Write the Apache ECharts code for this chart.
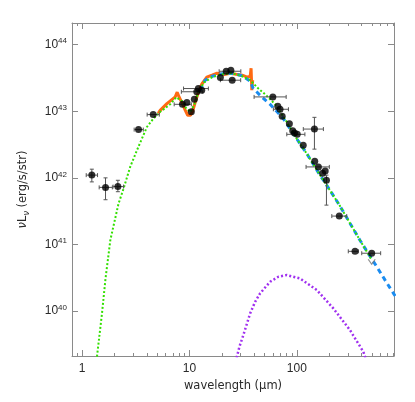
<!DOCTYPE html>
<html><head><meta charset="utf-8">
<script src="https://cdn.jsdelivr.net/npm/echarts@6/dist/echarts.min.js"></script>
<style>html,body{margin:0;padding:0;background:#fff}#c{width:415px;height:402px}</style>
</head><body><div id="c"></div>
<script>
// ---- observed photometry (wavelength in micron, nuL_nu in erg/s/str) ----
const ptWave   = [1.23, 1.65, 2.15, 3.35, 4.59, 8.6, 9.46, 10.4, 11.1, 11.7, 12.1, 13.0, 19.4, 22.0, 24.3, 25.0, 59.8, 66.5, 69.8, 73.1, 85.3, 91.6, 95.3, 101, 114.8, 146, 147, 159, 174, 184, 189, 249, 349, 499];
const ptLum    = [1.10e42, 7.2e41, 7.4e41, 5.3e42, 8.9e42, 1.27e43, 1.35e43, 9.8e42, 1.51e43, 1.96e43, 2.19e43, 2.07e43, 3.2e43, 3.98e43, 4.12e43, 2.92e43, 1.64e43, 1.19e43, 1.07e43, 8.4e42, 6.5e42, 5.1e42, 4.7e42, 4.5e42, 3.09e42, 5.4e42, 1.78e42, 1.46e42, 1.17e42, 1.27e42, 9.2e41, 2.67e41, 7.9e40, 7.4e40];
const ptWaveLo = [1.09, 1.44, 1.94, 3.05, 4.03, 7.2, null, null, null, 8.4, 8.8, null, null, 18.9, null, 19.4, 40, null, 60.5, null, null, null, null, 80.7, null, 115, null, 122, null, null, null, 212, 302, 403];
const ptWaveHi = [1.39, 1.91, 2.43, 3.71, 5.23, 10.4, null, null, null, 13.3, 15.0, null, null, 30.1, null, 30.0, 79.6, null, 83.6, null, null, null, null, 119, null, 177, null, 201, null, null, null, 292, 375, 605];
const ptLumLo  = [8.7e41, 4.7e41, 6.2e41, null, null, null, null, null, null, null, null, null, null, null, null, null, null, null, null, null, null, null, null, null, null, 2.7e42, null, null, null, null, 3.9e41, null, null, null];
const ptLumHi  = [1.35e42, 1.0e42, 9.2e41, null, null, null, null, null, null, null, null, null, null, null, null, null, null, null, null, null, null, null, null, null, null, 8.1e42, null, null, null, null, 1.1e42, null, null, null];
// upper limit marker
const ulWave = [499];
const ulLum  = [5.5e40];

// ---- model curves ----
const totWave = [1.32, 1.53, 1.65, 1.83, 2.18, 2.43, 2.80, 3.24, 4.01, 4.62, 5.33, 6.61, 7.52, 8.55, 9.31, 10.2, 11.1, 12.1, 13.7, 16.3, 20.2, 25.0, 31.0, 36.8, 43.6, 51.8, 62.8, 77.8, 96.4, 125, 158, 204, 253, 313, 388, 502];
const totLum  = [1.2e39, 9.3e39, 3.1e40, 1.17e41, 4.1e41, 6.9e41, 1.46e42, 2.6e42, 5.8e42, 7.8e42, 9.8e42, 1.27e43, 1.62e43, 1.41e43, 1.11e43, 9.7e42, 1.27e43, 1.93e43, 2.72e43, 3.24e43, 3.59e43, 3.72e43, 3.35e43, 2.92e43, 2.21e43, 1.74e43, 1.27e43, 7.6e42, 4.2e42, 2.26e42, 1.22e42, 6.5e41, 3.77e41, 2.09e41, 1.16e41, 5.8e40];

const fitWave = [12.6, 14.0, 16.3, 20.2, 25.0, 31.0, 36.8, 39.2, 47.5, 56.4, 74.5, 96.4, 125, 158, 204, 253, 313, 388, 481, 560, 665, 805, 916];
const fitLum  = [2.05e43, 2.92e43, 3.35e43, 3.65e43, 3.72e43, 3.41e43, 2.82e43, 2.21e43, 1.62e43, 1.27e43, 7.85e42, 4.2e42, 2.26e42, 1.22e42, 6.5e41, 3.77e41, 2.09e41, 1.16e41, 6.7e40, 4.57e40, 2.92e40, 1.8e40, 1.32e40];

const coldWave = [26.9, 29.2, 31.8, 36.8, 40.9, 45.5, 56.4, 67.4, 80.7, 107, 154, 219, 313, 417, 442];
const coldLum  = [1.73e39, 2.92e39, 4.4e39, 9.3e39, 1.38e40, 1.85e40, 2.76e40, 3.28e40, 3.48e40, 3.1e40, 2.07e40, 1.1e40, 5.2e39, 2.46e39, 1.85e39];

const specWave = [5.11, 5.33, 6.16, 6.90, 7.36, 7.68, 8.02, 8.55, 9.12, 9.62, 10.2, 10.7, 11.3, 12.1, 13.0, 14.5, 16.2, 18.1, 20.6, 23.9, 27.2, 31.0, 34.4, 36.8, 37.5, 38.1, 38.8];
const specLum  = [9.3e42, 1.03e43, 1.30e43, 1.51e43, 1.64e43, 1.93e43, 1.62e43, 1.32e43, 1.04e43, 8.7e42, 8.7e42, 1.0e43, 1.36e43, 1.93e43, 2.54e43, 3.24e43, 3.47e43, 3.72e43, 3.52e43, 3.72e43, 3.59e43, 3.47e43, 3.24e43, 3.35e43, 4.42e43, 2.07e43, 2.92e43];

// ---- axis ticks ----
const xMajor = [1, 10, 100];
const xMinor = [0.8, 0.9, 2, 3, 4, 5, 6, 7, 8, 9, 20, 30, 40, 50, 60, 70, 80, 90, 200, 300, 400, 500, 600, 700, 800];
const yMajorExp = [40, 41, 42, 43, 44];

const L = v => Math.log10(v);
const X_MIN = -0.095, X_MAX = 2.906, Y_MIN = 39.327, Y_MAX = 44.324;
const FONT = '"Liberation Sans", Arial, Helvetica, sans-serif';
const NFONT = '"DejaVu Sans", "Liberation Sans", sans-serif';
const AX = '#8a8a8a';
const TXT = '#2a2a2a';

const pair = (ws, ls) => ws.map((w, i) => [L(w), L(ls[i])]);

const errData = ptWave.map((w, i) => [
  L(w), L(ptLum[i]),
  L(ptWaveLo[i] == null ? w : ptWaveLo[i]), L(ptWaveHi[i] == null ? w : ptWaveHi[i]),
  L(ptLumLo[i] == null ? ptLum[i] : ptLumLo[i]), L(ptLumHi[i] == null ? ptLum[i] : ptLumHi[i])
]);

const gridRect = {left: 72, right: 21, top: 23, bottom: 46};

function xAxisDef(gridIndex, position, ticks, len, showLine, labels) {
  return {
    type: 'value', gridIndex, position, min: X_MIN, max: X_MAX,
    axisLine: {show: showLine, onZero: false, lineStyle: {color: AX, width: 1}},
    axisTick: {show: true, inside: true, length: len, customValues: ticks.map(L), lineStyle: {color: AX}},
    axisLabel: labels ? {show: true, customValues: ticks.map(L), margin: 7, color: TXT, fontFamily: FONT, fontSize: 12,
      formatter: v => String(Math.round(Math.pow(10, v)))} : {show: false},
    splitLine: {show: false},
    name: labels ? 'wavelength (μm)' : '', nameLocation: 'middle', nameGap: 22,
    nameTextStyle: {color: TXT, fontFamily: NFONT, fontSize: 11.5}
  };
}
function yAxisDef(gridIndex, position, showLine, labels) {
  return {
    type: 'value', gridIndex, position, min: Y_MIN, max: Y_MAX,
    axisLine: {show: showLine, onZero: false, lineStyle: {color: AX, width: 1}},
    axisTick: {show: showLine, inside: true, length: 6, customValues: yMajorExp, lineStyle: {color: AX}},
    axisLabel: labels ? {show: true, customValues: yMajorExp, margin: 5,
      formatter: v => '{b|10}{s|' + v + '}',
      rich: {b: {color: TXT, fontFamily: FONT, fontSize: 12, lineHeight: 15},
             s: {color: TXT, fontFamily: FONT, fontSize: 8, lineHeight: 15, verticalAlign: 'top'}}} : {show: false},
    splitLine: {show: false},
    name: labels ? '{i|ν}{n|L}{sub|ν}{n| (erg/s/str)}' : '', nameLocation: 'middle', nameGap: 41, nameRotate: 90,
    nameTextStyle: {rich: {
      n: {color: TXT, fontFamily: NFONT, fontSize: 11.5, lineHeight: 16},
      i: {color: TXT, fontFamily: NFONT, fontSize: 11.5, lineHeight: 16, fontStyle: 'italic'},
      sub: {color: TXT, fontFamily: NFONT, fontSize: 8, lineHeight: 16, verticalAlign: 'bottom', fontStyle: 'italic'}
    }}
  };
}

const chart = echarts.init(document.getElementById('c'), null, {renderer: 'canvas'});
chart.setOption({
  animation: false,
  backgroundColor: '#fff',
  grid: [Object.assign({}, gridRect), Object.assign({}, gridRect)],
  xAxis: [
    xAxisDef(0, 'bottom', xMajor, 6, true, true),
    xAxisDef(0, 'top', xMajor, 6, true, false),
    xAxisDef(1, 'bottom', xMinor, 3, false, false),
    xAxisDef(1, 'top', xMinor, 3, false, false)
  ],
  yAxis: [
    yAxisDef(0, 'left', true, true),
    yAxisDef(0, 'right', true, false),
    yAxisDef(1, 'left', false, false)
  ],
  series: [
    {type: 'line', xAxisIndex: 0, yAxisIndex: 0, data: pair(coldWave, coldLum), showSymbol: false, silent: true,
     lineStyle: {color: '#a030f0', width: 2.5, type: [2, 2.2]}, z: 2},
    {type: 'line', xAxisIndex: 0, yAxisIndex: 0, data: pair(specWave, specLum), showSymbol: false, silent: true,
     lineStyle: {color: '#ff6a12', width: 3}, z: 3},
    {type: 'line', xAxisIndex: 0, yAxisIndex: 0, data: pair(fitWave, fitLum), showSymbol: false, silent: true,
     lineStyle: {color: '#1a8cf0', width: 3, type: [5, 4]}, z: 4},
    {type: 'line', xAxisIndex: 0, yAxisIndex: 0, data: pair(totWave, totLum), showSymbol: false, silent: true,
     lineStyle: {color: '#33e000', width: 2, type: [2, 2]}, z: 5},
    {type: 'custom', xAxisIndex: 0, yAxisIndex: 0, data: errData, silent: true, z: 6,
     encode: {x: 0, y: 1},
     renderItem: function (params, api) {
       const x = api.value(0), y = api.value(1);
       const xl = api.value(2), xh = api.value(3), yl = api.value(4), yh = api.value(5);
       const st = {stroke: '#555', lineWidth: 1};
       const ch = [];
       const cap = 2;
       if (xh - xl > 1e-6) {
         const a = api.coord([xl, y]), b = api.coord([xh, y]);
         ch.push({type: 'line', shape: {x1: a[0], y1: a[1], x2: b[0], y2: b[1]}, style: st});
         ch.push({type: 'line', shape: {x1: a[0], y1: a[1] - cap, x2: a[0], y2: a[1] + cap}, style: st});
         ch.push({type: 'line', shape: {x1: b[0], y1: b[1] - cap, x2: b[0], y2: b[1] + cap}, style: st});
       }
       if (yh - yl > 1e-6) {
         const a = api.coord([x, yl]), b = api.coord([x, yh]);
         ch.push({type: 'line', shape: {x1: a[0], y1: a[1], x2: b[0], y2: b[1]}, style: st});
         ch.push({type: 'line', shape: {x1: a[0] - cap, y1: a[1], x2: a[0] + cap, y2: a[1]}, style: st});
         ch.push({type: 'line', shape: {x1: b[0] - cap, y1: b[1], x2: b[0] + cap, y2: b[1]}, style: st});
       }
       return {type: 'group', children: ch};
     }},
    {type: 'scatter', xAxisIndex: 0, yAxisIndex: 0, data: pair(ptWave, ptLum), symbol: 'circle', symbolSize: 7,
     itemStyle: {color: '#000'}, silent: true, z: 7},
    {type: 'scatter', xAxisIndex: 0, yAxisIndex: 0, data: pair(ulWave, ulLum), symbol: 'path://M0,0 L5,7 L10,0', symbolSize: [7, 5],
     itemStyle: {color: 'none', borderColor: '#777', borderWidth: 1}, silent: true, z: 6}
  ]
});
</script>
</body></html>
